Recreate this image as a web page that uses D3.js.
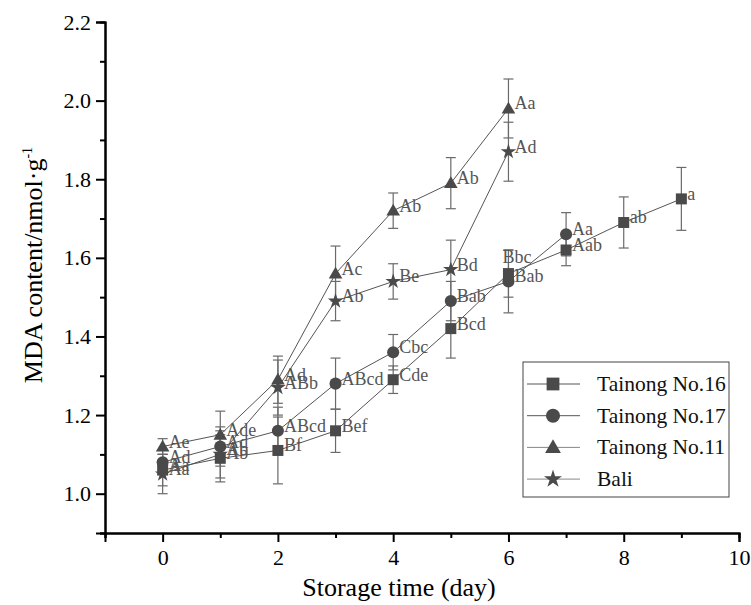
<!DOCTYPE html>
<html>
<head>
<meta charset="utf-8">
<script src="https://cdn.jsdelivr.net/npm/d3@7"></script>
<style>
  html, body { margin: 0; padding: 0; background: #fff; }
  svg { display: block; }
  text { font-family: "Liberation Serif", "Times New Roman", serif; }
</style>
</head>
<body>
<svg id="chart" width="751" height="605"></svg>
<script>
// ---------- data ----------
const seriesNames = ["Tainong No.16", "Tainong No.17", "Tainong No.11", "Bali"];
const days16 = [0, 1, 2, 3, 4, 5, 6, 7, 8, 9];
const mda16 = [1.06, 1.09, 1.11, 1.16, 1.29, 1.42, 1.56, 1.62, 1.69, 1.75];
const err16 = [0.04, 0.06, 0.085, 0.055, 0.035, 0.075, 0.06, 0.04, 0.065, 0.08];
const lab16 = ["Aa", "Ab", "Bf", "Bef", "Cde", "Bcd", "Bbc", "Aab", "ab", "a"];

const days17 = [0, 1, 2, 3, 4, 5, 6, 7];
const mda17 = [1.08, 1.12, 1.16, 1.28, 1.36, 1.49, 1.54, 1.66];
const err17 = [0.03, 0.05, 0.06, 0.065, 0.045, 0.05, 0.08, 0.055];
const lab17 = ["Ad", "Ad", "ABcd", "ABcd", "Cbc", "Bab", "Bab", "Aa"];

const days11 = [0, 1, 2, 3, 4, 5, 6];
const mda11 = [1.12, 1.15, 1.29, 1.56, 1.72, 1.79, 1.98];
const err11 = [0.02, 0.06, 0.06, 0.07, 0.045, 0.065, 0.075];
const lab11 = ["Ae", "Ade", "Ad", "Ac", "Ab", "Ab", "Aa"];

const daysBali = [0, 1, 2, 3, 4, 5, 6];
const mdaBali = [1.05, 1.10, 1.27, 1.49, 1.54, 1.57, 1.87];
const errBali = [0.05, 0.06, 0.07, 0.05, 0.045, 0.075, 0.075];
const labBali = ["Aa", "Ab", "ABb", "Ab", "Be", "Bd", "Ad"];

const xTicks = [0, 2, 4, 6, 8, 10];
const xMinorTicks = [-1, 1, 3, 5, 7, 9];
const yTicks = [1.0, 1.2, 1.4, 1.6, 1.8, 2.0, 2.2];
const yMinorTicks = [0.9, 1.1, 1.3, 1.5, 1.7, 1.9, 2.1];

const xTitle = "Storage time (day)";

// ---------- build ----------
const series = [
  { name: seriesNames[0], x: days16, y: mda16, e: err16, l: lab16, sym: d3.symbolSquare, size: 121 },
  { name: seriesNames[1], x: days17, y: mda17, e: err17, l: lab17, sym: d3.symbolCircle, size: 115 },
  { name: seriesNames[2], x: days11, y: mda11, e: err11, l: lab11, sym: d3.symbolTriangle, size: 80 },
  { name: seriesNames[3], x: daysBali, y: mdaBali, e: errBali, l: labBali, sym: d3.symbolStar, size: 75 }
];

const svg = d3.select("#chart");
const x = d3.scaleLinear().domain([-1, 10]).range([105, 739]);
const y = d3.scaleLinear().domain([0.9, 2.2]).range([533, 22]);

const markColor = "#4a4a4a";
const lineColor = "#555";
const errColor = "#6a6a6a";
const labelColor = "#555";
const serif = '"Liberation Serif", "Times New Roman", serif';

// axes
const gx = svg.append("g").attr("transform", `translate(0,${y(0.9)})`);
gx.call(d3.axisBottom(x).tickValues(xTicks).tickSize(9).tickPadding(7).tickFormat(d3.format("d")));
const gxm = svg.append("g").attr("transform", `translate(0,${y(0.9)})`);
gxm.call(d3.axisBottom(x).tickValues(xMinorTicks).tickSize(5).tickFormat(""));

const gy = svg.append("g").attr("transform", `translate(${x(-1)},0)`);
gy.call(d3.axisLeft(y).tickValues(yTicks).tickSize(9).tickPadding(5).tickFormat(d3.format(".1f")));
const gym = svg.append("g").attr("transform", `translate(${x(-1)},0)`);
gym.call(d3.axisLeft(y).tickValues(yMinorTicks).tickSize(5).tickFormat(""));

[gx, gxm, gy, gym].forEach(g => {
  g.attr("font-family", serif);
  g.selectAll(".domain").attr("stroke", "#000").attr("stroke-width", 2);
  g.selectAll(".tick line").attr("stroke", "#000").attr("stroke-width", 2);
  g.selectAll(".tick text").attr("fill", "#000").style("font-size", "22px")
    .style("font-family", serif);
});

// axis titles
svg.append("text")
  .attr("x", 399).attr("y", 596)
  .attr("text-anchor", "middle")
  .style("font-size", "26px").attr("fill", "#000")
  .text(xTitle);

const yt = svg.append("text")
  .attr("transform", `translate(42,${265}) rotate(-90)`)
  .attr("text-anchor", "middle")
  .style("font-size", "26px").attr("fill", "#000");
yt.append("tspan").text("MDA content/nmol·g");
yt.append("tspan").attr("dy", -10).style("font-size", "14px").text("-1");

// lines
const line = d3.line().x(d => x(d[0])).y(d => y(d[1]));
series.forEach(s => {
  const pts = s.x.map((d, i) => [d, s.y[i]]);
  svg.append("path").datum(pts)
    .attr("d", line).attr("fill", "none")
    .attr("stroke", lineColor).attr("stroke-width", 1);
});

// error bars
series.forEach(s => {
  const g = svg.append("g").attr("stroke", errColor).attr("stroke-width", 1.2);
  s.x.forEach((d, i) => {
    const cx = x(d), y1 = y(s.y[i] + s.e[i]), y2 = y(s.y[i] - s.e[i]);
    g.append("line").attr("x1", cx).attr("x2", cx).attr("y1", y1).attr("y2", y2);
    g.append("line").attr("x1", cx - 5).attr("x2", cx + 5).attr("y1", y1).attr("y2", y1);
    g.append("line").attr("x1", cx - 5).attr("x2", cx + 5).attr("y1", y2).attr("y2", y2);
  });
});

// markers
series.forEach(s => {
  const sym = d3.symbol().type(s.sym).size(s.size);
  s.x.forEach((d, i) => {
    svg.append("path").attr("d", sym())
      .attr("transform", `translate(${x(d)},${y(s.y[i]) + (s.sym === d3.symbolTriangle ? 1 : 0)})`)
      .attr("fill", markColor);
  });
});

// significance labels
series.forEach((s, si) => {
  s.x.forEach((d, i) => {
    let dx = 6, dy = -5;
    if (si === 0 && d === 6) { dx = -6; dy = -17; }
    svg.append("text")
      .attr("x", x(d) + dx).attr("y", y(s.y[i]) + dy)
      .attr("dominant-baseline", "central")
      .style("font-size", "18px").attr("fill", labelColor)
      .text(s.l[i]);
  });
});

// legend
const lg = svg.append("g");
lg.append("rect").attr("x", 523).attr("y", 362).attr("width", 206).attr("height", 135)
  .attr("fill", "#fff").attr("stroke", "#444").attr("stroke-width", 1);
series.forEach((s, i) => {
  const cy = 384 + i * 31.7;
  lg.append("line").attr("x1", 527).attr("x2", 580).attr("y1", cy).attr("y2", cy)
    .attr("stroke", i < 2 ? "#555" : "#888").attr("stroke-width", 1);
  lg.append("path").attr("d", d3.symbol().type(s.sym).size(s.size * 1.35)())
    .attr("transform", `translate(553,${cy + (s.sym === d3.symbolTriangle ? 1 : 0)})`)
    .attr("fill", markColor);
  lg.append("text").attr("x", 597).attr("y", cy)
    .attr("dominant-baseline", "central")
    .style("font-size", "21.5px").attr("fill", "#111")
    .text(s.name);
});
</script>
</body>
</html>
